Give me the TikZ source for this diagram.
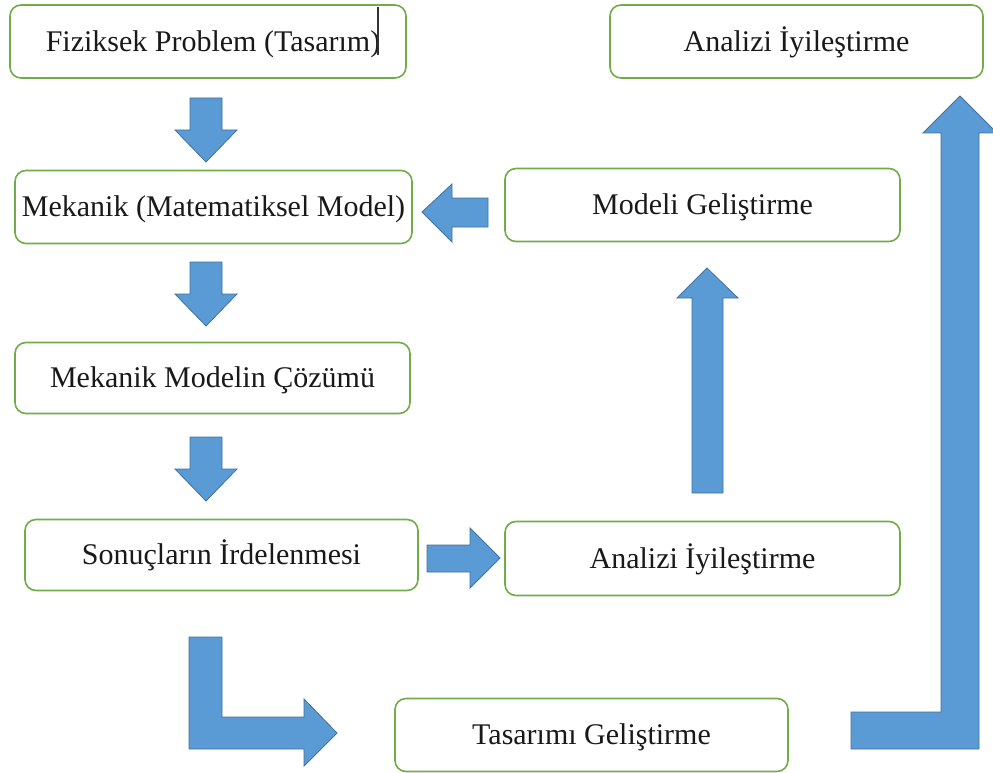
\documentclass[tikz,border=0pt]{standalone}
\usepackage{fontspec}
\setmainfont{Liberation Serif}
\definecolor{boxgreen}{HTML}{70AD47}
\definecolor{arrfill}{HTML}{5B9BD5}
\definecolor{arrline}{HTML}{41719C}
\begin{document}
\begin{tikzpicture}[x=1pt,y=-1pt,
  box/.style={draw=boxgreen, line width=1.6pt, rounded corners=11pt, fill=white,
    font=\fontsize{30}{32}\selectfont, text=black!90,
    text height=19.9pt, text depth=0pt, inner sep=0pt},
  blockarrow/.style={fill=arrfill, draw=arrline, line width=0.8pt, line join=miter}]
\useasboundingbox (0,0) rectangle (993,773);
\fill[white] (0,0) rectangle (993,773);
% boxes
\node[box, minimum width=396pt, minimum height=73pt] (b1) at (208,41.5) {\hspace{10pt}Fiziksek Problem (Tasarım)};
\node[box, minimum width=373pt, minimum height=73pt] (b2) at (796.5,41.5) {Analizi İyileştirme};
\node[box, minimum width=397pt, minimum height=73pt] (b3) at (213.5,207) {Mekanik (Matematiksel Model)};
\node[box, minimum width=395pt, minimum height=73pt] (b4) at (702.5,205) {Modeli Geliştirme};
\node[box, minimum width=395pt, minimum height=71pt] (b5) at (212.5,378) {Mekanik Modelin Çözümü};
\node[box, minimum width=393pt, minimum height=71pt] (b6) at (221.5,555) {Sonuçların İrdelenmesi};
\node[box, minimum width=395pt, minimum height=74pt] (b7) at (702.5,558.5) {Analizi İyileştirme};
\node[box, minimum width=393pt, minimum height=73pt] (b8) at (591.5,735) {Tasarımı Geliştirme};
% text cursor mark
\draw[black!80, line width=1.3pt] (378,7) -- (378,55);
% down arrows
\draw[blockarrow] (190,98) -- (222,98) -- (222,130) -- (237,130) -- (206,162) -- (175,130) -- (190,130) -- cycle;
\draw[blockarrow] (190,262) -- (222,262) -- (222,294) -- (237,294) -- (206,326) -- (175,294) -- (190,294) -- cycle;
\draw[blockarrow] (190,437) -- (222,437) -- (222,469) -- (237,469) -- (206,501) -- (175,469) -- (190,469) -- cycle;
% left arrow
\draw[blockarrow] (488,198) -- (488,227) -- (452,227) -- (452,242) -- (422,212) -- (452,184) -- (452,198) -- cycle;
% right arrow
\draw[blockarrow] (427,545) -- (470,545) -- (470,528) -- (500,558) -- (470,588) -- (470,572) -- (427,572) -- cycle;
% up arrow
\draw[blockarrow] (692,493) -- (692,298) -- (677,298) -- (707,268) -- (738,298) -- (723,298) -- (723,493) -- cycle;
% bent arrow bottom left
\draw[blockarrow] (189,637) -- (222,637) -- (222,717) -- (304,717) -- (304,699) -- (337,733) -- (304,766) -- (304,749) -- (189,749) -- cycle;
% big bent arrow right
\draw[blockarrow] (851,712) -- (941,712) -- (941,133) -- (923,133) -- (960,96) -- (997,133) -- (979,133) -- (979,749) -- (851,749) -- cycle;
\end{tikzpicture}
\end{document}
